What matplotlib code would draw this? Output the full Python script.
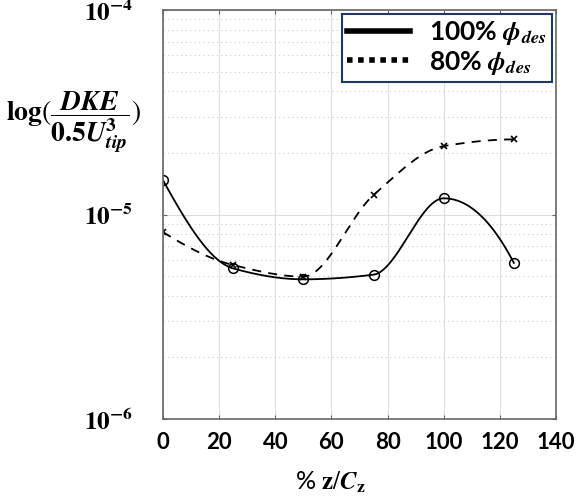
import numpy as np
import matplotlib
matplotlib.use("Agg")
import matplotlib.pyplot as plt
from matplotlib.lines import Line2D
from matplotlib.ticker import LogLocator, FixedLocator

plt.rcParams['mathtext.fontset'] = 'stix'
plt.rcParams['font.family'] = ['Lato', 'DejaVu Sans']

# ==================== 数据 ====================
z_pct = [0, 25, 50, 75, 100, 125]
dke_100 = [1.47e-5, 5.45e-6, 4.82e-6, 5.08e-6, 1.20e-5, 5.80e-6]
dke_80 = [8.2e-6, 5.66e-6, 4.97e-6, 1.245e-5, 2.16e-5, 2.33e-5]
series_labels = [r"100% $\mathbfit{\phi}_{\mathbfit{des}}$", r"80% $\mathbfit{\phi}_{\mathbfit{des}}$"]
x_ticks = [0, 20, 40, 60, 80, 100, 120, 140]


def pchip(x, y, xs):
    """分段三次 Hermite 插值 (用于画平滑曲线)"""
    x = np.asarray(x, float)
    y = np.asarray(y, float)
    h = np.diff(x)
    d = np.diff(y) / h
    n = len(x)
    m = np.zeros(n)
    for k in range(1, n - 1):
        if d[k - 1] * d[k] > 0:
            w1 = 2 * h[k] + h[k - 1]
            w2 = h[k] + 2 * h[k - 1]
            m[k] = (w1 + w2) / (w1 / d[k - 1] + w2 / d[k])
    # 端点
    def end(h0, h1, d0, d1):
        mm = ((2 * h0 + h1) * d0 - h0 * d1) / (h0 + h1)
        if np.sign(mm) != np.sign(d0):
            mm = 0.0
        elif np.sign(d0) != np.sign(d1) and abs(mm) > abs(3 * d0):
            mm = 3 * d0
        return mm
    m[0] = end(h[0], h[1], d[0], d[1])
    m[-1] = end(h[-1], h[-2], d[-1], d[-2])
    idx = np.clip(np.searchsorted(x, xs) - 1, 0, n - 2)
    t = (xs - x[idx]) / h[idx]
    h00 = 2 * t**3 - 3 * t**2 + 1
    h10 = t**3 - 2 * t**2 + t
    h01 = -2 * t**3 + 3 * t**2
    h11 = t**3 - t**2
    return h00 * y[idx] + h10 * h[idx] * m[idx] + h01 * y[idx + 1] + h11 * h[idx] * m[idx + 1]


fig = plt.figure(figsize=(5.83, 4.98), dpi=100)
ax = fig.add_axes([0.2796, 0.1586, 0.674, 0.8213])

xs = np.linspace(z_pct[0], z_pct[-1], 400)
smooth_100 = 10 ** pchip(z_pct, np.log10(dke_100), xs)
smooth_80 = 10 ** pchip(z_pct, np.log10(dke_80), xs)

ax.plot(xs, smooth_100, 'k-', linewidth=1.3)
ax.plot(z_pct, dke_100, 'o', color='k', markerfacecolor='none', markersize=7, markeredgewidth=1.1)
ax.plot(xs, smooth_80, 'k', linestyle=(0, (5, 4)), linewidth=1.3)
ax.plot(z_pct, dke_80, 'x', color='k', markersize=4, markeredgewidth=1.2)

ax.set_yscale('log')
ax.set_ylim(1e-6, 1e-4)
ax.set_xlim(0, 140)
ax.set_xticks(x_ticks)
ax.set_xticklabels([str(v) for v in x_ticks], fontsize=16, fontweight='bold')
ax.yaxis.set_major_locator(FixedLocator([1e-6, 1e-5, 1e-4]))
ax.set_yticklabels([r"$\mathbf{10^{-6}}$", r"$\mathbf{10^{-5}}$", r"$\mathbf{10^{-4}}$"], fontsize=18)
ax.yaxis.set_minor_locator(LogLocator(base=10, subs=np.arange(2, 10)))
ax.yaxis.set_minor_formatter(plt.NullFormatter())

ax.tick_params(axis='both', which='major', direction='in', length=3, width=0.8,
               color='#666666', top=True, right=True)
ax.tick_params(axis='x', pad=9)
ax.tick_params(axis='y', pad=22)
ax.tick_params(axis='y', which='minor', length=0)

ax.grid(True, which='major', color='#dddddd', linewidth=0.8, linestyle='-')
ax.grid(True, which='minor', axis='y', color='#cccccc', linewidth=0.8, linestyle=(0, (1, 3)))
ax.set_axisbelow(True)
for sp in ax.spines.values():
    sp.set_color('#666666')
    sp.set_linewidth(1.2)

ax.set_xlabel(r"% $\mathbf{z}/\mathbfit{C}_{\mathbf{z}}$", fontsize=18)
ax.xaxis.set_label_coords(0.425, -0.125)
ax.set_ylabel(r"$\mathbf{log}(\dfrac{\mathbfit{DKE}}{\mathbf{0.5}\mathbfit{U}_{\mathbfit{tip}}^{\mathbf{3}}})$",
              fontsize=20, rotation=0, va='center')
ax.yaxis.set_label_coords(-0.228, 0.725)

handles = [Line2D([0], [0], color='k', linewidth=4, linestyle='-'),
           Line2D([0], [0], color='k', linewidth=4, linestyle=(0, (1, 1)))]
leg = ax.legend(handles, series_labels, loc='upper right',
                prop={'weight': 'bold', 'size': 19}, handlelength=2.4,
                borderaxespad=0.15, borderpad=0.2, fancybox=False, framealpha=1,
                labelspacing=0.05, handletextpad=0.7)
leg.get_frame().set_edgecolor('#1f3864')
leg.get_frame().set_linewidth(1.5)

fig.savefig('out.png', dpi=100)
